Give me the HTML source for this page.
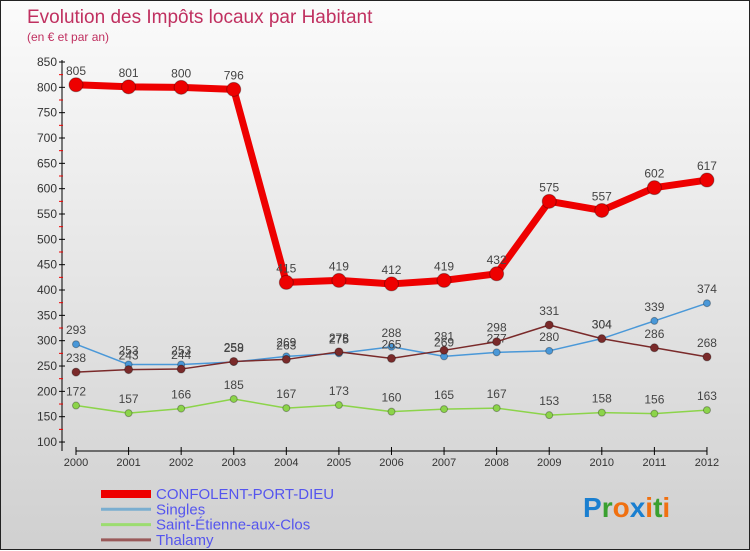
<!DOCTYPE html>
<html><head><meta charset="utf-8"><style>
body{margin:0;width:750px;height:550px;overflow:hidden;font-family:"Liberation Sans",sans-serif}
#wrap{position:relative;width:748px;height:548px;border:1px solid #222;background:linear-gradient(#fbfbfb,#d0d0d0)}
svg{position:absolute;left:0;top:0}
</style></head><body>
<div id="wrap">
<svg id="c" width="750" height="550"></svg>
</div>
<script>
const years=["2000","2001","2002","2003","2004","2005","2006","2007","2008","2009","2010","2011","2012"];
const confolent=[805,801,800,796,415,419,412,419,432,575,557,602,617];
const singles=[293,253,253,258,269,275,288,269,277,280,304,339,374];
const stetienne=[172,157,166,185,167,173,160,165,167,153,158,156,163];
const thalamy=[238,243,244,259,263,278,265,281,298,331,304,286,268];
const yTicks=[100,150,200,250,300,350,400,450,500,550,600,650,700,750,800,850];
const NS="http://www.w3.org/2000/svg";
const svg=document.getElementById('c');
function X(i){return 75+i*52.58;}
function Y(v){return 61+(850-v)*0.5067;}
function mk(t,a,p){const e=document.createElementNS(NS,t);for(const k in a)e.setAttribute(k,a[k]);(p||svg).appendChild(e);return e;}
function txt(x,y,s,a,p){const e=mk('text',Object.assign({x:x,y:y},a),p);e.textContent=s;return e;}
let t=txt(26,22,"Evolution des Impôts locaux par Habitant",{'font-size':19,fill:'#c03060'});

t=txt(26,40,"(en € et par an)",{'font-size':12,fill:'#c03060'});

let a=mk('line',{x1:61,y1:59,x2:61,y2:450,stroke:'#000'});

a=mk('line',{x1:75,y1:450,x2:706,y2:450,stroke:'#000'});

yTicks.forEach((v,i)=>{
 mk('line',{x1:58,y1:Y(v),x2:64,y2:Y(v),stroke:'#000'});
 if(i<yTicks.length-1) mk('line',{x1:58,y1:Y(v+25),x2:62,y2:Y(v+25),stroke:'#e00'});
 const l=txt(56,Y(v)+4,String(v),{'font-size':12,fill:'#333','text-anchor':'end'});
 
});
years.forEach((y,i)=>{
 mk('line',{x1:X(i),y1:446,x2:X(i),y2:454,stroke:'#000'});
 const l=txt(X(i),465,y,{'font-size':11,fill:'#333','text-anchor':'middle'});
 
});
function series(d,color,w,r,name){
 const g=mk('g',{});
 
 mk('polyline',{points:d.map((v,i)=>X(i)+','+Y(v)).join(' '),fill:'none',stroke:color,'stroke-width':w,'stroke-linejoin':'round'},g);
 d.forEach((v,i)=>{
  const c=mk('circle',{cx:X(i),cy:Y(v),r:r,fill:color,stroke:'rgba(0,0,0,0.3)'},g);
  
  const l=txt(X(i),Y(v)-10,String(v),{'font-size':12,fill:'#444','text-anchor':'middle'},g);
  
 });
}
series(stetienne,'#8cd44a',1.5,3.5,'saint-etienne-series');
series(singles,'#4a98d8',1.5,3.5,'singles-series');
series(thalamy,'#7a2a2a',1.5,4,'thalamy-series');
series(confolent,'#ee0000',7,7,'confolent-series');
const leg=[["CONFOLENT-PORT-DIEU",'#ee0000',8],["Singles",'#7aaed0',3],["Saint-Étienne-aux-Clos",'#9cdc70',3],["Thalamy",'#9a5a5a',3]];
leg.forEach((e,i)=>{
 const g=mk('g',{});
 
 const y=493+i*15.3;
 mk('line',{x1:100,y1:y,x2:150,y2:y,stroke:e[1],'stroke-width':e[2]},g);
 txt(155,y+5,e[0],{'font-size':15,fill:'#5555ee',textLength:e[0].length*8.5>230?230:null},g);
});
const lg=mk('text',{x:582,y:516,'font-size':28,'font-weight':'bold'});

[["P","#1a7fd0"],["r","#3aa030"],["o","#f07010"],["x","#1a7fd0"],["i","#f07010"],["t","#3aa030"],["i","#f07010"]].forEach(p=>{const s=mk('tspan',{fill:p[1]},lg);s.textContent=p[0];});
</script>
</body></html>
